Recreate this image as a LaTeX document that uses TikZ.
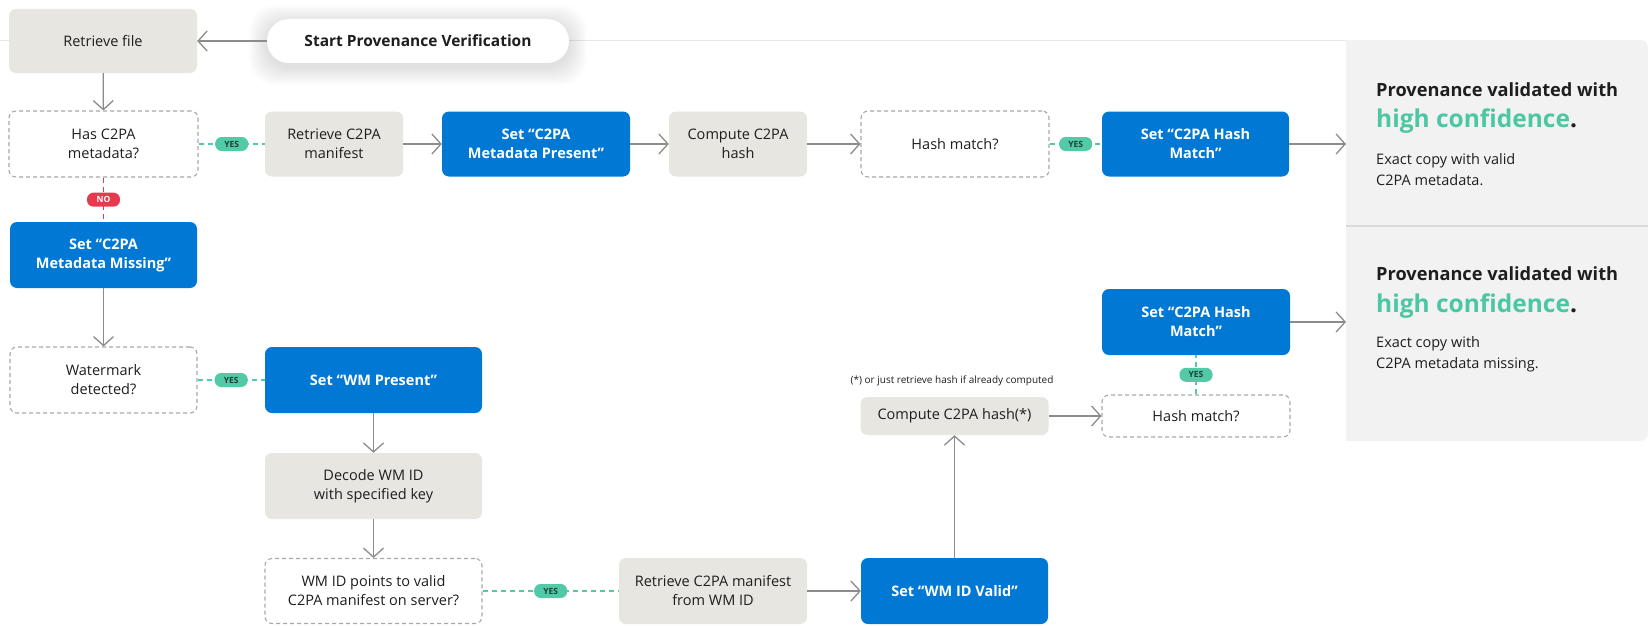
\documentclass[tikz,border=0pt]{standalone}
\usepackage{fontspec}
\setmainfont{Open Sans}
\usetikzlibrary{arrows.meta,calc}
\definecolor{bluec}{HTML}{0078D4}
\definecolor{beigec}{HTML}{E8E6E1}
\definecolor{dashc}{HTML}{A8A8A8}
\definecolor{arrc}{HTML}{8C8C8C}
\definecolor{yesc}{HTML}{52C9A7}
\definecolor{yestext}{HTML}{1E3F36}
\definecolor{noc}{HTML}{E8394F}
\definecolor{panelc}{HTML}{F2F2F2}
\definecolor{divc}{HTML}{D9D9D9}
\definecolor{tealtxt}{HTML}{4CC7A4}
\definecolor{linec}{HTML}{E8E8E8}
\definecolor{txtc}{HTML}{1E1E1E}
\begin{document}
\begin{tikzpicture}[x=1pt,y=-1pt,
  box/.style={rounded corners=7pt, align=center, inner sep=0pt, font=\fontsize{14.5}{19}\selectfont, text=txtc},
  tan/.style={box, fill=beigec},
  act/.style={box, fill=bluec, text=white, font=\bfseries\fontsize{14.5}{19}\selectfont},
  ask/.style={box, fill=white, draw=dashc, line width=1.1pt, dash pattern=on 4pt off 3pt},
  sz/.style 2 args={minimum width=#1pt, minimum height=#2pt},
  startpill/.style={fill=white, rounded corners=22pt, minimum width=302pt, minimum height=44pt, inner sep=0pt, font=\bfseries\fontsize{15.5}{18}\selectfont, text=txtc},
  arr/.style={draw=arrc, line width=1.3pt, -{Straight Barb[length=9pt,width=20pt]}},
  yesline/.style={draw=yesc, line width=1.4pt, dash pattern=on 5pt off 4pt},
  noline/.style={draw=noc, line width=1.4pt, dash pattern=on 5pt off 4pt},
  yespill/.style={fill=yesc, rounded corners=6.5pt, minimum width=33pt, minimum height=14pt, inner sep=0pt, font=\bfseries\fontsize{8.5}{9}\selectfont, text=yestext},
  nopill/.style={fill=noc, rounded corners=6.5pt, minimum width=33pt, minimum height=14pt, inner sep=0pt, font=\bfseries\fontsize{8.5}{9}\selectfont, text=white},
  paneltxt/.style={anchor=west, inner sep=0pt, align=left, text=txtc}
]
\fill[white] (0,0) rectangle (1648,626);
\useasboundingbox (0,0) rectangle (1648,626);

% background line and result panel
\draw[linec, line width=1pt] (0,41) -- (1346,41);
\fill[panelc, rounded corners=8pt] (1346,40) rectangle (1648,441);
\fill[panelc] (1346,40) rectangle (1420,441);
\draw[divc, line width=1.5pt] (1346,226) -- (1648,226);

% shadow of start pill
\foreach \i in {1,...,10}{
  \fill[black, opacity=0.01, rounded corners=26pt] (267-\i*1.8, 19-\i*1.8+4) rectangle (569+\i*1.8, 63+\i*1.8+4);
}

% nodes
\node[tan, sz={188}{64}] (retr) at (103,41) {Retrieve file};
\node[startpill] (start) at (418,41) {Start Provenance Verification};
\node[ask, sz={189}{66}] (has) at (103.5,144) {Has C2PA\\metadata?};
\node[tan, sz={138}{65}] (rcm) at (334,144) {Retrieve C2PA\\manifest};
\node[act, sz={188}{65}] (smp) at (536,144) {Set “C2PA\\Metadata Present”};
\node[tan, sz={138}{65}] (comp) at (738,144) {Compute C2PA\\hash};
\node[ask, sz={188}{66}] (hm1) at (955,144) {Hash match?};
\node[act, sz={187}{65}] (shm1) at (1195.5,144) {Set “C2PA Hash\\Match”};
\node[act, sz={187}{66}] (miss) at (103.5,255) {Set “C2PA\\Metadata Missing”};
\node[ask, sz={187}{66}] (wm) at (103.5,380) {Watermark\\detected?};
\node[act, sz={217}{66}] (wmp) at (373.5,380) {Set “WM Present”};
\node[tan, sz={217}{66}] (dec) at (373.5,486) {Decode WM ID\\with specified key};
\node[ask, sz={217}{65}] (wmid) at (373.5,591) {WM ID points to valid\\C2PA manifest on server?};
\node[tan, sz={188}{66}] (rwm) at (713,591) {Retrieve C2PA manifest\\from WM ID};
\node[act, sz={187}{66}] (wmv) at (954.5,591) {Set “WM ID Valid”};
\node[tan, sz={188}{38}] (comp2) at (954.5,416) {Compute C2PA hash(*)};
\node[ask, sz={188}{42}] (hm2) at (1196,416) {Hash match?};
\node[act, sz={188}{66}] (shm2) at (1196,322) {Set “C2PA Hash\\Match”};
\node[font=\fontsize{10}{12}\selectfont, text=txtc, inner sep=0pt] (note) at (952,381) {(*) or just retrieve hash if already computed};

\coordinate (p1) at (1346,144);
\coordinate (p2) at (1346,322);

% connectors
\draw[arr] (start) -- (retr);
\draw[arr] (retr) -- (has);
\draw[yesline] (has) -- (rcm);
\draw[arr] (rcm) -- (smp);
\draw[arr] (smp) -- (comp);
\draw[arr] (comp) -- (hm1);
\draw[yesline] (hm1) -- (shm1);
\draw[arr] (shm1) -- (p1);
\draw[noline] (has) -- (miss);
\draw[arr] (miss) -- (wm);
\draw[yesline] (wm) -- (wmp);
\draw[arr] (wmp) -- (dec);
\draw[arr] (dec) -- (wmid);
\draw[yesline] (wmid) -- (rwm);
\draw[arr] (rwm) -- (wmv);
\draw[arr] (wmv) -- (comp2);
\draw[arr] (comp2) -- (hm2);
\draw[yesline] (hm2) -- (shm2);
\draw[arr] (shm2) -- (p2);

% pills
\node[yespill] (y1) at ($(has.east)!0.5!(rcm.west)$) {YES};
\node[yespill] (y2) at ($(hm1.east)!0.5!(shm1.west)$) {YES};
\node[nopill] (n1) at ($(has.south)!0.5!(miss.north)$) {NO};
\node[yespill] (y3) at ($(wm.east)!0.5!(wmp.west)$) {YES};
\node[yespill] (y4) at ($(wmid.east)!0.5!(rwm.west)$) {YES};
\node[yespill] (y5) at ($(hm2.north)!0.5!(shm2.south)$) {YES};

% panel texts
\node[paneltxt, font=\bfseries\fontsize{18.2}{22}\selectfont] (h1) at (1376,90) {Provenance validated with};
\node[paneltxt, font=\bfseries\fontsize{24.5}{28}\selectfont, text=tealtxt] (c1) at (1376,121) {high confidence\textcolor{txtc}{.}};
\node[paneltxt, font=\fontsize{14.5}{21}\selectfont] (e1) at (1376,169.5) {Exact copy with valid\\C2PA metadata.};
\node[paneltxt, font=\bfseries\fontsize{18.2}{22}\selectfont] (h2) at (1376,274) {Provenance validated with};
\node[paneltxt, font=\bfseries\fontsize{24.5}{28}\selectfont, text=tealtxt] (c2) at (1376,306) {high confidence\textcolor{txtc}{.}};
\node[paneltxt, font=\fontsize{14.5}{21}\selectfont] (e2) at (1376,354.5) {Exact copy with\\C2PA metadata missing.};
\end{tikzpicture}
\end{document}
